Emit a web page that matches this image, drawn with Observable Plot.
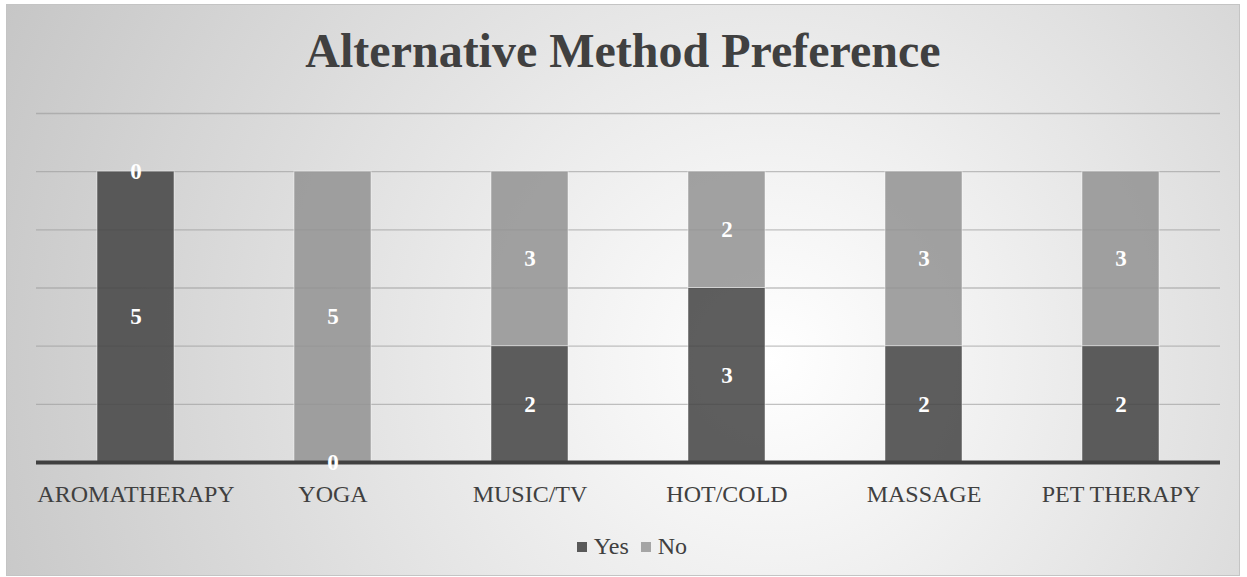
<!DOCTYPE html>
<html>
<head>
<meta charset="utf-8">
<script src="https://cdn.jsdelivr.net/npm/d3@7"></script>
<script src="https://cdn.jsdelivr.net/npm/@observablehq/plot@0.6"></script>
<style>
  html, body { margin: 0; padding: 0; background: #ffffff; }
  #wrap {
    position: absolute; left: 6px; top: 4px; width: 1234px; height: 572px;
    box-sizing: border-box; border: 1px solid #c4c4c4;
    background: radial-gradient(circle farthest-corner at 62% 62%, #ffffff 0%, #f3f3f3 22%, #c6c6c6 100%);
    font-family: "Liberation Serif", "Times New Roman", serif; color: #404040;
    overflow: hidden;
  }
  #title {
    position: absolute; left: 0; width: 100%; top: 22px; text-align: center;
    font-size: 48px; line-height: 48px; font-weight: bold; color: #404040;
    font-family: "Liberation Serif", serif;
  }
  #chart { position: absolute; left: 0; top: 90px; }
  #legend {
    position: absolute; left: 9px; width: 100%; top: 527px; text-align: center;
    font-size: 24px; line-height: 28px; color: #404040;
    font-family: "Liberation Serif", serif;
  }
  .item { display: inline-block; margin: 0 6px; }
  .sw { display: inline-block; width: 10px; height: 10px; margin-right: 7px; vertical-align: 2px; }
</style>
</head>
<body>
<div id="wrap">
  <div id="title">Alternative Method Preference</div>
  <div id="chart"></div>
  <div id="legend"></div>
</div>
<script>
const categories = ["AROMATHERAPY", "YOGA", "MUSIC/TV", "HOT/COLD", "MASSAGE", "PET THERAPY"];
const series = ["Yes", "No"];
const yesValues = [5, 0, 2, 3, 2, 2];
const noValues = [0, 5, 3, 2, 3, 3];
const yTicks = [0, 1, 2, 3, 4, 5, 6];
const seriesColors = ["#434343", "#939393"];
const legendColors = ["#595959", "#a5a5a5"];
const serif = "Liberation Serif";

const data = [];
categories.forEach((c, i) => {
  data.push({category: c, series: "Yes", value: yesValues[i]});
  data.push({category: c, series: "No", value: noValues[i]});
});

const chart = Plot.plot({
  width: 1232,
  height: 420,
  marginLeft: 29,
  marginRight: 19,
  marginTop: 18,
  marginBottom: 53,
  style: {background: "transparent", fontFamily: serif, fontSize: "24px", color: "#404040"},
  x: {domain: categories, paddingInner: 0.61, paddingOuter: 0.305, label: null, axis: null},
  y: {domain: [0, 6], label: null, axis: null},
  color: {domain: series, range: seriesColors},
  marks: [
    Plot.ruleY(yTicks.filter(d => d > 0), {stroke: "#9a9a9a", strokeOpacity: 0.6, strokeWidth: 1.3}),
    Plot.barY(data, Plot.stackY({x: "category", y: "value", z: "series", order: series, fill: "series", fillOpacity: 0.86, stroke: "#ffffff", strokeOpacity: 0.45, strokeWidth: 1})),
    Plot.ruleY([0], {stroke: "#404040", strokeWidth: 4}),
    Plot.text(data, Plot.stackY({x: "category", y: "value", z: "series", order: series, text: d => String(d.value), fill: "white", fontWeight: "bold", fontSize: 23, fontFamily: serif})),
    Plot.axisX({tickSize: 0, tickPadding: 22, fontSize: 24, fontFamily: serif, fill: "#404040"}),
  ]
});
document.getElementById("chart").appendChild(chart);

const legend = document.getElementById("legend");
series.forEach((s, i) => {
  const it = document.createElement("span");
  it.className = "item";
  const sw = document.createElement("span");
  sw.className = "sw";
  sw.style.background = legendColors[i];
  it.appendChild(sw);
  it.appendChild(document.createTextNode(s));
  legend.appendChild(it);
});
</script>
</body>
</html>
